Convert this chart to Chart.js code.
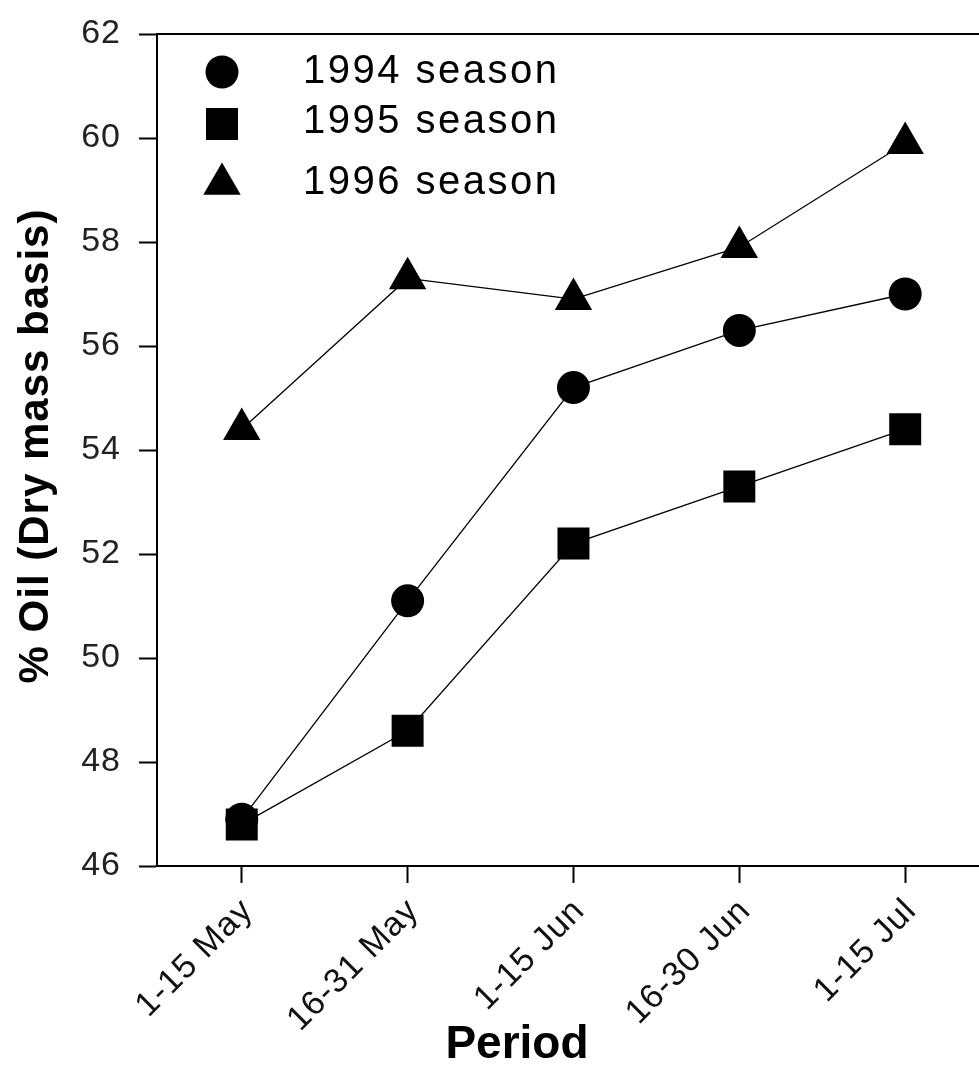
<!DOCTYPE html>
<html>
<head>
<meta charset="utf-8">
<script src="https://cdn.jsdelivr.net/npm/chart.js@4/dist/chart.umd.min.js"></script>
<style>
  html, body { margin: 0; padding: 0; background: #fff; overflow: hidden; }
</style>
</head>
<body>
<canvas id="oilChart" width="979" height="1068"></canvas>
<script>
// ─── Data ────────────────────────────────────────────
const periods = ['1-15 May', '16-31 May', '1-15 Jun', '16-30 Jun', '1-15 Jul'];
const season1994 = [46.9, 51.1, 55.2, 56.3, 57.0];
const season1995 = [46.8, 48.6, 52.2, 53.3, 54.4];
const season1996 = [54.4, 57.3, 56.9, 57.9, 59.9];
const seasonNames = ['1994 season', '1995 season', '1996 season'];
const yTicks = [46, 48, 50, 52, 54, 56, 58, 60, 62];

const FONT = '"Liberation Sans", Arial, sans-serif';
const markerStyles = ['circle', 'rect', 'triangle'];
const markerRadii = [16.5, 22.6, 21.6];

const toPoints = arr => arr.map((v, i) => ({ x: i, y: v }));
const seriesValues = [season1994, season1995, season1996];

// slightly wider text spacing, like the original figure
const spacingPlugin = {
    id: 'spacing',
    beforeUpdate(chart) { chart.ctx.letterSpacing = '1px'; },
    beforeDraw(chart) { chart.ctx.letterSpacing = '1px'; }
};

function drawMarker(ctx, style, x, y, r) {
    ctx.beginPath();
    if (style === 'circle') {
        ctx.arc(x, y, r, 0, Math.PI * 2);
    } else if (style === 'rect') {
        const s = Math.SQRT1_2 * r;
        ctx.rect(x - s, y - s, 2 * s, 2 * s);
    } else {
        let a = 0;
        ctx.moveTo(x + Math.sin(a) * r, y - Math.cos(a) * r);
        a += 2 * Math.PI / 3;
        ctx.lineTo(x + Math.sin(a) * r, y - Math.cos(a) * r);
        a += 2 * Math.PI / 3;
        ctx.lineTo(x + Math.sin(a) * r, y - Math.cos(a) * r);
        ctx.closePath();
    }
    ctx.fill();
}

// axis titles + legend drawn by hand
const decorPlugin = {
    id: 'decor',
    afterDraw(chart) {
        const ctx = chart.ctx;
        ctx.save();
        ctx.fillStyle = '#000';

        // y title
        ctx.letterSpacing = '1px';
        ctx.font = 'bold 42px ' + FONT;
        ctx.textAlign = 'center';
        ctx.textBaseline = 'middle';
        ctx.save();
        ctx.translate(36, 446);
        ctx.rotate(-Math.PI / 2);
        ctx.fillText('% Oil (Dry mass basis)', 0, 0);
        ctx.restore();

        // x title
        ctx.letterSpacing = '0px';
        ctx.font = 'bold 46px ' + FONT;
        ctx.fillText('Period', 517, 1045);

        // legend
        const markerY = [72, 124, 184];
        const textY = [72, 122, 183];
        ctx.letterSpacing = '2.5px';
        ctx.font = '40px ' + FONT;
        ctx.textAlign = 'left';
        chart.data.datasets.forEach((ds, i) => {
            drawMarker(ctx, ds.pointStyle, 222, markerY[i], ds.pointRadius);
            ctx.fillText(seasonNames[i], 303, textY[i]);
        });
        ctx.restore();
    }
};

new Chart(document.getElementById('oilChart').getContext('2d'), {
    type: 'line',
    data: {
        datasets: seriesValues.map((vals, i) => ({
            label: seasonNames[i],
            data: toPoints(vals),
            borderColor: '#000',
            backgroundColor: '#000',
            borderWidth: 1.3,
            pointStyle: markerStyles[i],
            pointRadius: markerRadii[i],
            pointHoverRadius: markerRadii[i],
            pointBorderWidth: 0,
            pointBackgroundColor: '#000',
            tension: 0,
            clip: false
        }))
    },
    options: {
        responsive: false,
        animation: false,
        events: [],
        layout: { autoPadding: false, padding: { top: 34, left: 0, right: 0, bottom: 0 } },
        plugins: {
            legend: { display: false },
            tooltip: { enabled: false }
        },
        scales: {
            x: {
                type: 'linear',
                position: 'bottom',
                min: -0.511,
                max: 4.445,
                afterBuildTicks: s => { s.ticks = periods.map((p, i) => ({ value: i })); },
                afterFit: s => { s.height = 202; },
                border: { display: true, color: '#000', width: 2 },
                grid: { drawOnChartArea: false, drawTicks: true, tickLength: 17, tickColor: '#000', tickWidth: 2 },
                ticks: {
                    autoSkip: false,
                    minRotation: 45,
                    maxRotation: 45,
                    padding: 8,
                    labelOffset: 6,
                    color: '#111',
                    font: { family: FONT, size: 34 },
                    callback: v => periods[v]
                }
            },
            xTop: {
                type: 'linear',
                position: 'top',
                min: 0,
                max: 1,
                afterFit: s => { s.height = 0; },
                border: { display: true, color: '#000', width: 2 },
                grid: { display: false, drawTicks: false },
                ticks: { display: false }
            },
            y: {
                min: 46,
                max: 62,
                afterBuildTicks: s => { s.ticks = yTicks.map(v => ({ value: v })); },
                // fixed width, and no extra top/bottom room for the end labels
                afterFit: s => { s.width = 157; s.paddingTop = 0; s.paddingBottom = 0; },
                border: { display: true, color: '#000', width: 2 },
                grid: { drawOnChartArea: false, drawTicks: true, tickLength: 18, tickColor: '#000', tickWidth: 2 },
                ticks: {
                    padding: 18,
                    color: '#222',
                    font: { family: FONT, size: 34 }
                }
            }
        }
    },
    plugins: [spacingPlugin, decorPlugin]
});
</script>
</body>
</html>
